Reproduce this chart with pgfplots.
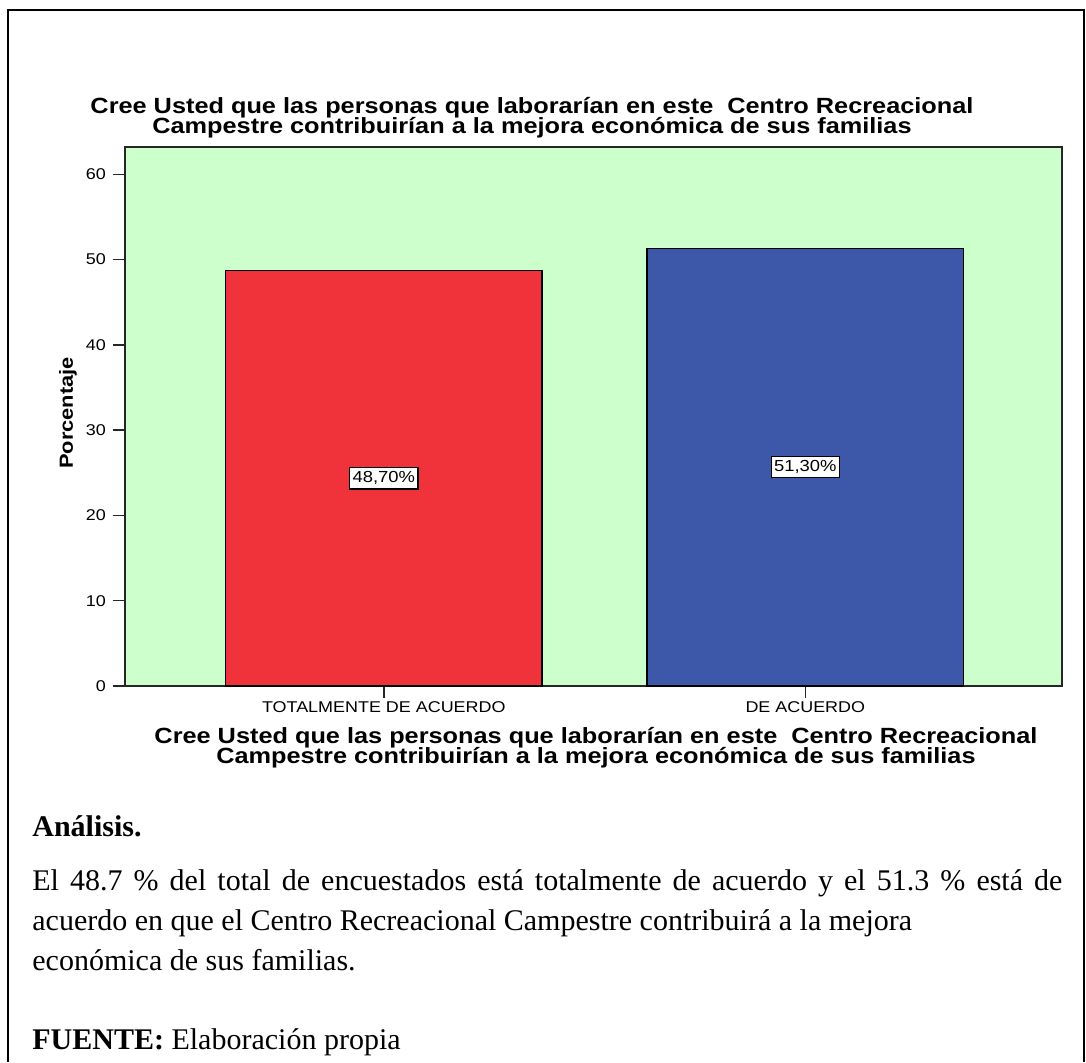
\documentclass[border=0pt]{standalone}
\usepackage{fontspec}
\usepackage{pgfplots}
\pgfplotsset{compat=1.18}
\setmainfont{Liberation Serif}
\newfontfamily\chartfont[FakeStretch=1.15]{Liberation Sans}
\definecolor{bggreen}{RGB}{204,255,204}
\definecolor{barred}{RGB}{240,51,59}
\definecolor{barblue}{RGB}{61,88,168}

\begin{document}
\begin{tikzpicture}
\useasboundingbox (0,0) rectangle (543pt,-531pt);
% page frame
\draw[line width=1pt] (3.9pt,-531pt) -- (3.9pt,-4.9pt) -- (542pt,-4.9pt) -- (542pt,-531pt);

\begin{axis}[
    at={(62.5pt,-343pt)}, anchor=south west,
    scale only axis,
    width=468.5pt, height=269.5pt,
    xmin=-0.614, xmax=1.609,
    ymin=0, ymax=63.2,
    axis background/.style={fill=bggreen},
    axis line style={line width=0.7pt, black!85},
    ybar, bar width=0.751, bar shift=0pt,
    xtick={0,1},
    xticklabels={TOTALMENTE DE ACUERDO, DE ACUERDO},
    ytick={0,10,20,30,40,50,60},
    tick pos=left, tick align=outside,
    major tick length=6pt,
    tick style={line width=0.7pt, black!85},
    ticklabel style={font=\chartfont\fontsize{7.8}{9}\selectfont},
    xticklabel style={yshift=1.5pt},
    /pgf/number format/assume math mode=true,
    visualization depends on=y \as \rawy,
    nodes near coords={\pgfmathprintnumber[fixed,fixed zerofill,precision=2,use comma]{\pgfplotspointmeta}\%},
    every node near coord/.append style={
        font=\chartfont\fontsize{8}{9}\selectfont,
        anchor=center, fill=white, draw=black, line width=0.6pt,
        inner xsep=1.5pt, inner ysep=2pt,
        shift={(axis direction cs:0,-\rawy/2)}},
]
\addplot[fill=barred, draw=black, line width=0.6pt] coordinates {(0,48.7)};
\addplot[fill=barblue, draw=black, line width=0.6pt] coordinates {(1,51.3)};
\end{axis}

% titles
\node[font=\chartfont\bfseries\fontsize{11}{10}\selectfont, anchor=base, inner sep=0] at (266pt,-56.5pt) {Cree Usted que las personas que laborarían en este\ \ Centro Recreacional};
\node[font=\chartfont\bfseries\fontsize{11}{10}\selectfont, anchor=base, inner sep=0] at (266pt,-66.5pt) {Campestre contribuirían a la mejora económica de sus familias};
\node[font=\chartfont\bfseries\fontsize{11}{10}\selectfont, anchor=base, inner sep=0] at (298pt,-371.5pt) {Cree Usted que las personas que laborarían en este\ \ Centro Recreacional};
\node[font=\chartfont\bfseries\fontsize{11}{10}\selectfont, anchor=base, inner sep=0] at (298pt,-381.5pt) {Campestre contribuirían a la mejora económica de sus familias};
\node[font=\chartfont\bfseries\fontsize{9.5}{10}\selectfont, rotate=90, inner sep=0] at (34pt,-206.5pt) {Porcentaje};

% analysis text
\begin{scope}[every node/.style={anchor=base west, inner sep=0, font=\fontsize{15}{20}\selectfont}]
\node at (16pt,-418pt) {\bfseries Análisis.};
\node at (16pt,-445pt) {\makebox[515pt][s]{El 48.7 \% del total de encuestados está totalmente de acuerdo y el 51.3 \% está de}};
\node at (16pt,-465pt) {acuerdo en que el Centro Recreacional Campestre contribuirá a la mejora};
\node at (16pt,-485pt) {económica de sus familias.};
\node at (16pt,-524.5pt) {\textbf{FUENTE:} Elaboración propia};
\end{scope}
\end{tikzpicture}
\end{document}
